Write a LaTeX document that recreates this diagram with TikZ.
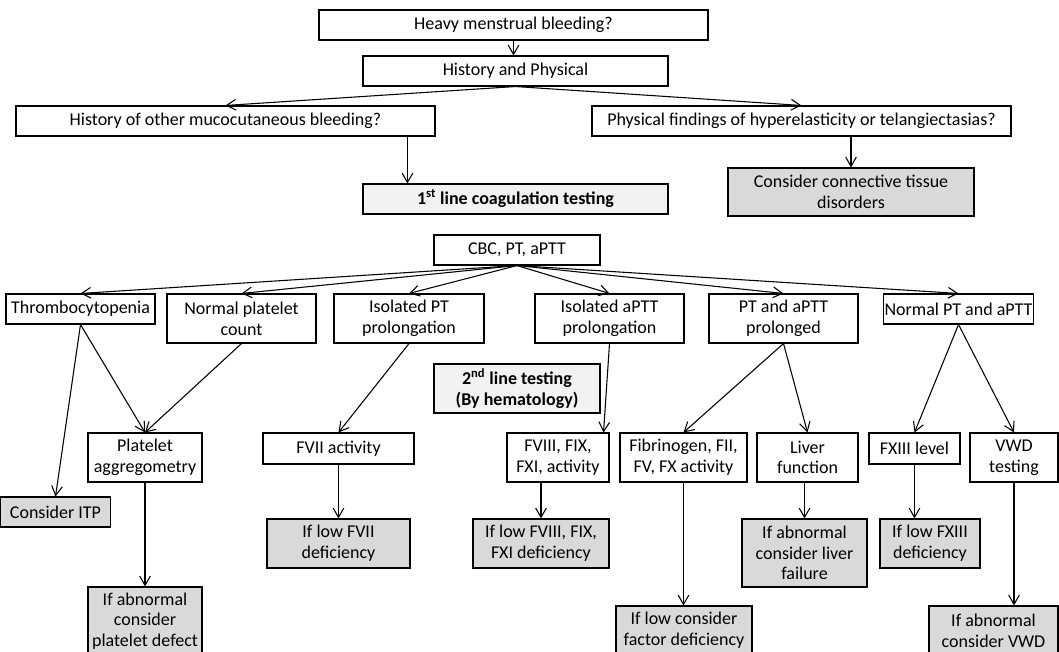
\documentclass[tikz,border=0pt]{standalone}
\usepackage{fontspec}
\setmainfont{Carlito}
\usepackage{xcolor}
\usetikzlibrary{arrows.meta}

\definecolor{resgray}{RGB}{217,217,217}
\definecolor{stagegray}{RGB}{242,242,242}

\tikzset{
  box/.style={draw, rectangle, align=center, inner sep=0.5pt, font=\fontsize{13.5}{15.5}\selectfont},
  result/.style={box, fill=resgray},
  stage/.style={box, fill=stagegray, font=\fontsize{13.5}{15.5}\selectfont\bfseries},
  sz/.style 2 args={minimum width=#1*0.75pt, minimum height=#2*0.75pt},
  arr/.style={-{Straight Barb[length=7pt,width=8pt]}},
}

\begin{document}
\begin{tikzpicture}[x=0.75pt, y=-0.75pt, line width=0.8pt]
    \useasboundingbox (0,0) rectangle (1059,652);

    % top of the chart
    \node [box, sz={389}{30}] (heavy) at (513.5,25) {Heavy menstrual bleeding?};
    \node [box, sz={305}{30}] (hp) at (515.5,71) {History and Physical};
    \node [box, sz={419}{30}] (hist) at (225.5,121) {History of other mucocutaneous bleeding?};
    \node [box, sz={419}{30}] (phys) at (801.5,121) {Physical findings of hyperelasticity or telangiectasias?};
    \node [stage, sz={305}{30}] (first) at (515.5,199) {1\textsuperscript{st} line coagulation testing};
    \node [result, sz={246}{48}] (conn) at (851,192) {Consider connective tissue\\disorders};

    % first line results
    \node [box, sz={166}{30}] (cbc) at (517,250) {CBC, PT, aPTT};
    \node [box, sz={149}{30}] (thromb) at (80.5,309) {Thrombocytopenia};
    \node [box, sz={149}{49}] (normplt) at (241.5,318.5) {Normal platelet\\count};
    \node [box, sz={150}{49}] (isopt) at (409,318.5) {Isolated PT\\prolongation};
    \node [box, sz={149}{49}] (isoaptt) at (609.5,318.5) {Isolated aPTT\\prolongation};
    \node [box, sz={149}{49}] (both) at (783.5,318.5) {PT and aPTT\\prolonged};
    \node [box, sz={149}{30}] (normpt) at (958.5,309) {Normal PT and aPTT};
    \node [stage, sz={166}{49}] (second) at (517,388.5) {2\textsuperscript{nd} line testing\\(By hematology)};

    % second line tests
    \node [box, sz={114}{49}] (aggr) at (145,457.5) {Platelet\\aggregometry};
    \node [result, sz={110}{30}] (itp) at (55.5,512) {Consider ITP};
    \node [box, sz={151}{31}] (fvii) at (338.5,448.5) {FVII activity};
    \node [box, sz={102}{49}] (fviii) at (558,457.5) {FVIII, FIX,\\FXI, activity};
    \node [box, sz={127}{49}] (fib) at (683.5,457.5) {Fibrinogen, FII,\\FV, FX activity};
    \node [box, sz={101}{49}] (liver) at (807.5,457.5) {Liver\\function};
    \node [box, sz={91}{31}] (fxiii) at (914.5,448.5) {FXIII level};
    \node [box, sz={88}{49}] (vwd) at (1014,457.5) {VWD\\testing};

    % outcomes
    \node [result, sz={114}{68}] (abplt) at (145,621) {If abnormal\\consider\\platelet defect};
    \node [result, sz={143}{49}] (lowfvii) at (338.5,543.5) {If low FVII\\deficiency};
    \node [result, sz={136}{49}] (lowfviii) at (541,543.5) {If low FVIII, FIX,\\FXI deficiency};
    \node [result, sz={136}{49}] (lowfac) at (684,630.5) {If low consider\\factor deficiency};
    \node [result, sz={125}{68}] (abliver) at (804.5,553) {If abnormal\\consider liver\\failure};
    \node [result, sz={100}{49}] (lowfxiii) at (930,543.5) {If low FXIII\\deficiency};
    \node [result, sz={129}{49}] (abvwd) at (993.5,630.5) {If abnormal\\consider VWD};

    \coordinate (firstin) at ([xshift=33.75pt]first.north west);
    \coordinate (fviiiin) at ([xshift=-4.5pt]fviii.north east);

    % connectors
    \draw [arr] (heavy.south) -- (heavy.south |- hp.north);
    \draw [arr] (hp.south) -- (hist.north);
    \draw [arr] (hp.south) -- (phys.north);
    \draw [arr] (hist.south -| firstin) -- (firstin);
    \draw [arr] (phys.south -| conn.north) -- (conn.north);
    \foreach \n in {thromb,normplt,isopt,isoaptt,both,normpt}
      \draw [arr] (cbc.south) -- (\n.north);
    \draw [arr] (thromb.south) -- (aggr.north);
    \draw [arr] (thromb.south) -- (itp.north);
    \draw [arr] (normplt.south) -- (aggr.north);
    \draw [arr] (isopt.south) -- (fvii.north);
    \draw [arr] (isoaptt.south) -- (fviiiin);
    \draw [arr] (both.south) -- (fib.north);
    \draw [arr] (both.south) -- (liver.north);
    \draw [arr] (normpt.south) -- (fxiii.north);
    \draw [arr] (normpt.south) -- (vwd.north);
    \draw [arr] (aggr.south) -- (abplt.north);
    \draw [arr] (fvii.south) -- (lowfvii.north);
    \draw [arr] (fviii.south -| lowfviii.north) -- (lowfviii.north);
    \draw [arr] (fib.south) -- (fib.south |- lowfac.north);
    \draw [arr] (liver.south -| abliver.north) -- (abliver.north);
    \draw [arr] (fxiii.south) -- (fxiii.south |- lowfxiii.north);
    \draw [arr] (vwd.south) -- (vwd.south |- abvwd.north);
\end{tikzpicture}
\end{document}
